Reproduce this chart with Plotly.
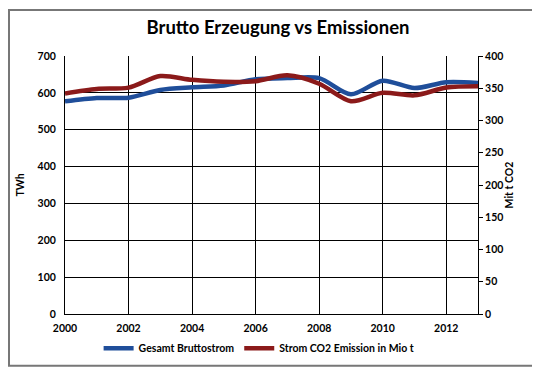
import plotly.graph_objects as go

years = list(range(2000, 2014))
brutto_twh = [577, 586, 587, 608, 615, 620, 637, 640, 640, 596, 633, 613, 629, 627]
co2_mio_t = [342, 349, 351, 369, 363, 360, 361, 370, 357, 330, 343, 339, 351, 353]

name_blue = "Gesamt Bruttostrom"
name_red = "Strom CO2 Emission in Mio t"

FONT = "Lato"
fig = go.Figure()
fig.add_trace(go.Scatter(x=years, y=brutto_twh, name=name_blue, mode="lines",
                         line=dict(color="#1f4e9a", width=4.5, shape="spline", smoothing=0.8)))
fig.add_trace(go.Scatter(x=years, y=co2_mio_t, name=name_red, mode="lines", yaxis="y2",
                         line=dict(color="#8b1a1a", width=4.5, shape="spline", smoothing=0.8)))

W, H = 540, 367
l, r, t, b = 57, 70, 48, 55
pw, ph = W - l - r, H - t - b
TS = 10.5

fig.update_layout(
    width=W, height=H,
    margin=dict(l=l, r=r, t=t, b=b),
    paper_bgcolor="white", plot_bgcolor="white",
    font=dict(family=FONT, size=TS, color="black", weight="bold"),
    title=dict(text="<b>Brutto Erzeugung vs Emissionen</b>", x=0.5, xanchor="center",
               y=1 - 20 / H, yanchor="middle", font=dict(family=FONT, size=18.5, color="black")),
    xaxis=dict(range=[2000, 2013], tickvals=list(range(2000, 2013, 2)),
               showgrid=True, gridcolor="black", gridwidth=1,
               showline=True, linecolor="black", linewidth=1, zeroline=False,
               ticks="", tickfont=dict(size=TS, weight="bold"), ticklabelstandoff=4),
    yaxis=dict(title=dict(text="TWh", font=dict(size=TS, weight="bold"), standoff=10),
               range=[0, 700], dtick=100, showgrid=True, gridcolor="black", gridwidth=1,
               showline=True, linecolor="black", linewidth=1, zeroline=False, ticks="",
               tickfont=dict(size=TS, weight="bold"), ticklabelstandoff=6),
    yaxis2=dict(title=dict(text="Mit t CO2", font=dict(size=TS, weight="bold"), standoff=0),
                range=[0, 400], dtick=50, overlaying="y", side="right", showgrid=False,
                showline=True, linecolor="black", linewidth=1, zeroline=False,
                ticks="outside", ticklen=4, tickcolor="black",
                tickfont=dict(size=TS, weight="bold")),
    legend=dict(orientation="h", x=0.47, xanchor="center", y=-(347 - 312) / ph, yanchor="middle",
                font=dict(size=10.5, weight="bold"), itemwidth=30),
    showlegend=True,
)

fig.add_shape(type="rect", xref="paper", yref="paper",
              x0=(1 - l) / pw, x1=(W - 2 - l) / pw,
              y0=-(H - 2 - (t + ph)) / ph, y1=(t + ph - 1) / ph,
              line=dict(color="#777777", width=2), layer="below")

fig.write_html("out.html")
